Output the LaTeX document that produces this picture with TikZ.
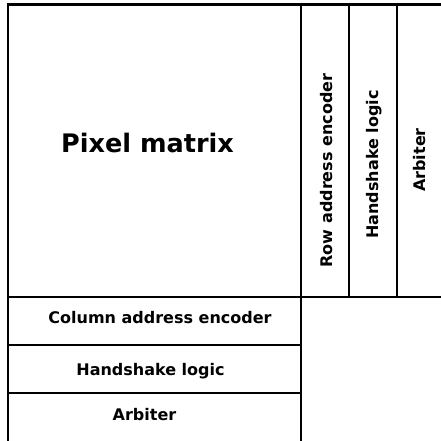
\documentclass[tikz,border=0pt]{standalone}
\usepackage{fontspec}
\setmainfont{DejaVu Sans}
\begin{document}
\begin{tikzpicture}[x=1pt,y=-1pt,
  blk/.style={draw=black,line width=2.8pt},
  lbl/.style={font=\bfseries\fontsize{16}{18}\selectfont,inner sep=0pt,anchor=base},
  big/.style={font=\bfseries\fontsize{25.5}{28}\selectfont,inner sep=0pt,anchor=base}]
\useasboundingbox (0,0) rectangle (441,440);
\begin{scope}
\clip (0,0) rectangle (441,440);
\draw[blk] (8,4.5) rectangle (301,297);
\draw[blk] (301,4.5) rectangle (349,297);
\draw[blk] (349,4.5) rectangle (397,297);
\draw[blk] (397,4.5) rectangle (450,297);
\draw[blk] (8,297) rectangle (301,345);
\draw[blk] (8,345) rectangle (301,393);
\draw[blk] (8,393) rectangle (301,450);
\end{scope}
\node[big] (pm) at (147.5,152) {Pixel matrix};
\node[lbl,rotate=90] (rae) at (332,170.5) {Row address encoder};
\node[lbl,rotate=90] (hl1) at (378,164.5) {Handshake logic};
\node[lbl,rotate=90] (arb1) at (425,160) {Arbiter};
\node[lbl] (cae) at (160,323) {Column address encoder};
\node[lbl] (hl2) at (150.5,375) {Handshake logic};
\node[lbl] (arb2) at (144.5,420) {Arbiter};
\end{tikzpicture}
\end{document}
